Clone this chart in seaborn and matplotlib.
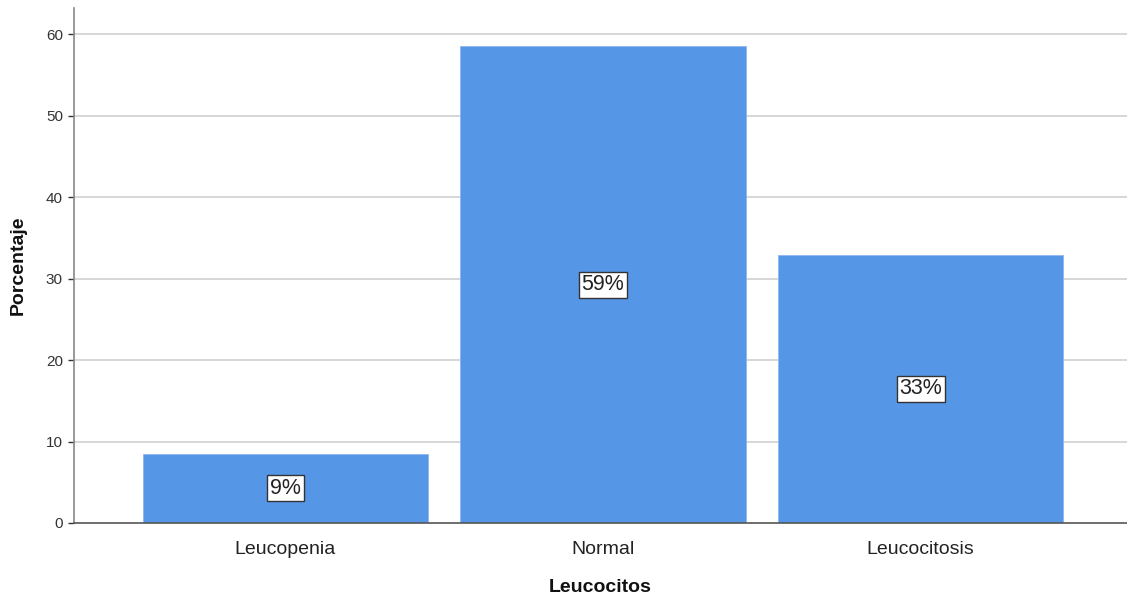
import matplotlib
matplotlib.use("Agg")
import matplotlib.pyplot as plt
import seaborn as sns
import pandas as pd

categories = ["Leucopenia", "Normal", "Leucocitosis"]
porcentaje = [8.5, 58.5, 32.9]
etiquetas = ["9%", "59%", "33%"]
yticks = [0, 10, 20, 30, 40, 50, 60]

sns.set_theme(style="white")
plt.rcParams["font.family"] = ["Liberation Sans", "DejaVu Sans"]

df = pd.DataFrame({"Leucocitos": categories, "Porcentaje": porcentaje})

fig = plt.figure(figsize=(11.27, 6.0), dpi=100)
ax = fig.add_axes([74 / 1127, 77 / 600, (1127 - 74) / 1127, (523 - 8) / 600])

ax.set_axisbelow(True)
for t in yticks[1:]:
    ax.axhline(t, color="#d4d4d4", linewidth=1.3, zorder=0)

sns.barplot(data=df, x="Leucocitos", y="Porcentaje", color="#5596e6",
            saturation=1, width=0.9, edgecolor="#8fb8ee", linewidth=0.6, ax=ax, zorder=2)

for i, (v, lab) in enumerate(zip(porcentaje, etiquetas)):
    ax.text(i, v / 2, lab, ha="center", va="center", fontsize=15.5, color="#222222",
            bbox=dict(boxstyle="square,pad=0.12", facecolor="white", edgecolor="#333333", linewidth=1.0),
            zorder=3)

ax.set_xlim(-0.666, 2.65)
ax.set_ylim(0, 63.2)
ax.set_yticks(yticks)
ax.tick_params(axis="y", labelsize=11, length=4, width=1, color="#555555", pad=4, left=True)
ax.tick_params(axis="x", labelsize=14, length=0, pad=13, colors="#222222")
ax.tick_params(axis="y", colors="#333333")

for s in ["top", "right"]:
    ax.spines[s].set_visible(False)
ax.spines["left"].set_color("#888888")
ax.spines["left"].set_linewidth(1.2)
ax.spines["bottom"].set_color("#555555")
ax.spines["bottom"].set_linewidth(1.2)

ax.set_xlabel("Leucocitos", fontsize=14, fontweight="bold", labelpad=15, color="#111111")
ax.set_ylabel("Porcentaje", fontsize=14, fontweight="bold", labelpad=14, color="#111111")

fig.savefig("out.png", dpi=100)
